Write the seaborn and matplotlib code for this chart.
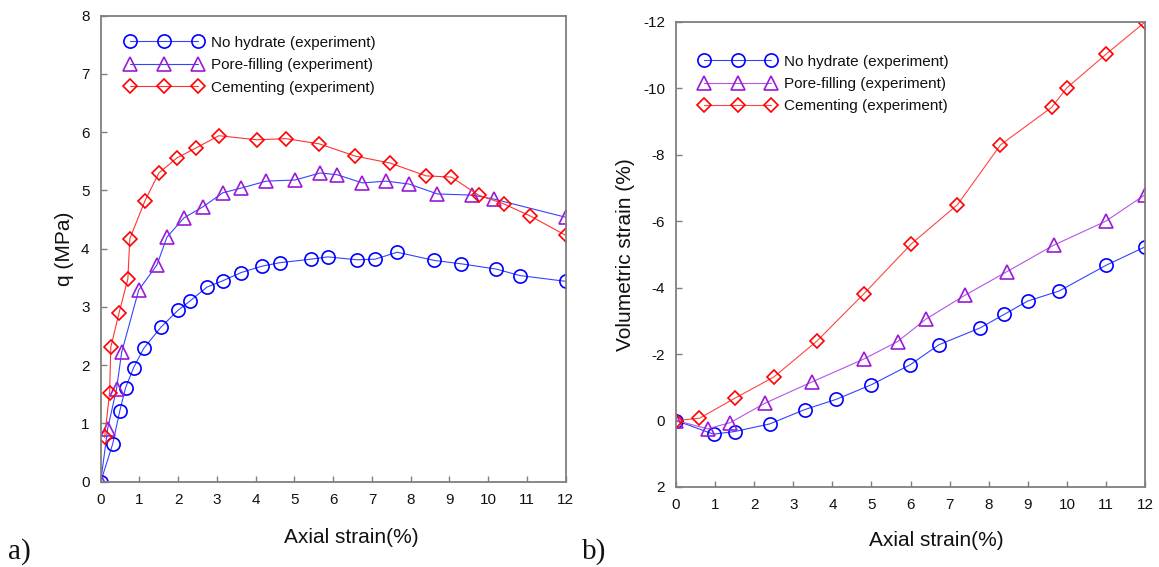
import matplotlib
matplotlib.use("Agg")
import matplotlib.pyplot as plt
import seaborn as sns
import numpy as np

# ---------------- data: panel a) deviator stress ----------------
a_none_x = [0, 0.31, 0.49, 0.64, 0.85, 1.11, 1.55, 1.99, 2.30, 2.74, 3.15, 3.62, 4.16, 4.62, 5.42, 5.86, 6.61, 7.08, 7.65, 8.60, 9.31, 10.21, 10.81, 12.0]
a_none_y = [0, 0.65, 1.21, 1.61, 1.96, 2.29, 2.65, 2.94, 3.10, 3.34, 3.45, 3.59, 3.70, 3.76, 3.82, 3.86, 3.81, 3.82, 3.94, 3.80, 3.74, 3.65, 3.54, 3.44]

a_pore_x = [0, 0.18, 0.41, 0.54, 0.98, 1.45, 1.71, 2.15, 2.64, 3.15, 3.62, 4.27, 5.02, 5.66, 6.10, 6.75, 7.37, 7.96, 8.69, 9.59, 10.16, 12.0]
a_pore_y = [0, 0.91, 1.60, 2.22, 3.29, 3.72, 4.20, 4.53, 4.72, 4.96, 5.04, 5.16, 5.18, 5.30, 5.27, 5.13, 5.16, 5.11, 4.94, 4.92, 4.85, 4.54]

a_cem_x = [0.10, 0.23, 0.26, 0.47, 0.70, 0.75, 1.14, 1.50, 1.97, 2.46, 3.05, 4.03, 4.78, 5.64, 6.57, 7.47, 8.40, 9.05, 9.75, 10.40, 11.09, 12.0]
a_cem_y = [0.76, 1.53, 2.31, 2.89, 3.48, 4.17, 4.82, 5.30, 5.56, 5.73, 5.94, 5.87, 5.89, 5.80, 5.59, 5.47, 5.25, 5.23, 4.92, 4.77, 4.56, 4.23]

# ---------------- data: panel b) volumetric strain ----------------
b_none_x = [0, 0.96, 1.50, 2.40, 3.29, 4.10, 5.00, 5.99, 6.72, 7.78, 8.40, 9.00, 9.80, 11.01, 12.0]
b_none_y = [0, 0.41, 0.33, 0.10, -0.33, -0.64, -1.08, -1.68, -2.28, -2.79, -3.20, -3.60, -3.90, -4.68, -5.23]

b_pore_x = [0, 0.81, 1.39, 2.27, 3.49, 4.80, 5.67, 6.40, 7.40, 8.46, 9.66, 10.99, 12.0]
b_pore_y = [0, 0.25, 0.06, -0.52, -1.17, -1.85, -2.38, -3.06, -3.78, -4.48, -5.28, -6.00, -6.80]

b_cem_x = [0, 0.60, 1.50, 2.50, 3.61, 4.80, 6.02, 7.20, 8.30, 9.61, 10.00, 11.01, 12.0]
b_cem_y = [0, -0.07, -0.67, -1.31, -2.40, -3.81, -5.32, -6.50, -8.30, -9.43, -10.02, -11.04, -12.0]

labels = ["No hydrate (experiment)", "Pore-filling (experiment)", "Cementing (experiment)"]
a_xticks = list(range(0, 13))
a_yticks = list(range(0, 9))
b_yticks = list(range(-12, 3, 2))

# ---------------- style ----------------
sns.set_theme(style="ticks")
plt.rcParams["font.family"] = ["Liberation Sans", "DejaVu Sans"]
plt.rcParams["axes.unicode_minus"] = False

BLUE = "#0000FF"
PURPLE = "#9A1AD6"
RED = "#FF0000"

fig = plt.figure(figsize=(11.59, 5.67), dpi=100)
axA = fig.add_axes([0.0869, 0.1504, 0.4012, 0.8219])
axB = fig.add_axes([0.5833, 0.1411, 0.4047, 0.8201])


def draw(ax, x, y, marker, ms, lc, mc, label, lw=0.8):
    sns.lineplot(x=x, y=y, ax=ax, sort=False, estimator=None,
                 color=lc, linewidth=lw,
                 marker=marker, markersize=ms,
                 markerfacecolor="none", markeredgecolor=mc,
                 markeredgewidth=1.2, label=label)


# panel a
draw(axA, a_none_x, a_none_y, "o", 9.5, "#3344FF", BLUE, labels[0])
draw(axA, a_pore_x, a_pore_y, "^", 9.5, "#3344FF", PURPLE, labels[1])
draw(axA, a_cem_x, a_cem_y, "D", 6.8, "#FF3333", RED, labels[2])

# panel b
draw(axB, b_none_x, b_none_y, "o", 9.5, "#3344FF", BLUE, labels[0])
draw(axB, b_pore_x, b_pore_y, "^", 9.5, "#B355E8", PURPLE, labels[1])
draw(axB, b_cem_x, b_cem_y, "D", 6.8, "#FF4444", RED, labels[2])

for ax in (axA, axB):
    for s in ax.spines.values():
        s.set_visible(True)
        s.set_color("#7f7f7f")
        s.set_linewidth(1.3)
    ax.tick_params(direction="in", length=4.5, width=1.0, color="#7f7f7f",
                   labelsize=11, labelcolor="#111111", top=False, right=False)
    ax.tick_params(axis="y", pad=8)
    ax.tick_params(axis="x", pad=8)
    ax.set_xlim(0, 12)
    ax.set_xticks(a_xticks)
    ax.set_xlabel("Axial strain(%)", fontsize=15, color="#111111")
    ax.grid(False)

axA.set_ylim(0, 8)
axA.set_yticks(a_yticks)
axA.set_ylabel("q (MPa)", fontsize=15, color="#111111")
axA.xaxis.set_label_coords(0.54, -0.1)
axA.yaxis.set_label_coords(-0.058, 0.5)

axB.set_ylim(2, -12)
axB.set_yticks(b_yticks)
axB.set_ylabel("Volumetric strain (%)", fontsize=15, color="#111111")
axB.xaxis.set_label_coords(0.554, -0.095)
axB.yaxis.set_label_coords(-0.088, 0.5)

leg_kw = dict(loc="upper left", frameon=False, fontsize=11, numpoints=3,
              handlelength=5.0, handletextpad=0.55, labelspacing=0.55,
              borderpad=0, borderaxespad=0)
legA = axA.legend(bbox_to_anchor=(0.054, 0.957), **leg_kw)
legB = axB.legend(bbox_to_anchor=(0.05, 0.93), **leg_kw)
for leg in (legA, legB):
    for t in leg.get_texts():
        t.set_color("#111111")

fig.text(0.007, 0.027, "a)", fontsize=21, family=["Liberation Serif", "DejaVu Serif"],
         ha="left", va="center", color="#111111")
fig.text(0.502, 0.027, "b)", fontsize=21, family=["Liberation Serif", "DejaVu Serif"],
         ha="left", va="center", color="#111111")

fig.savefig("out.png", dpi=100)
